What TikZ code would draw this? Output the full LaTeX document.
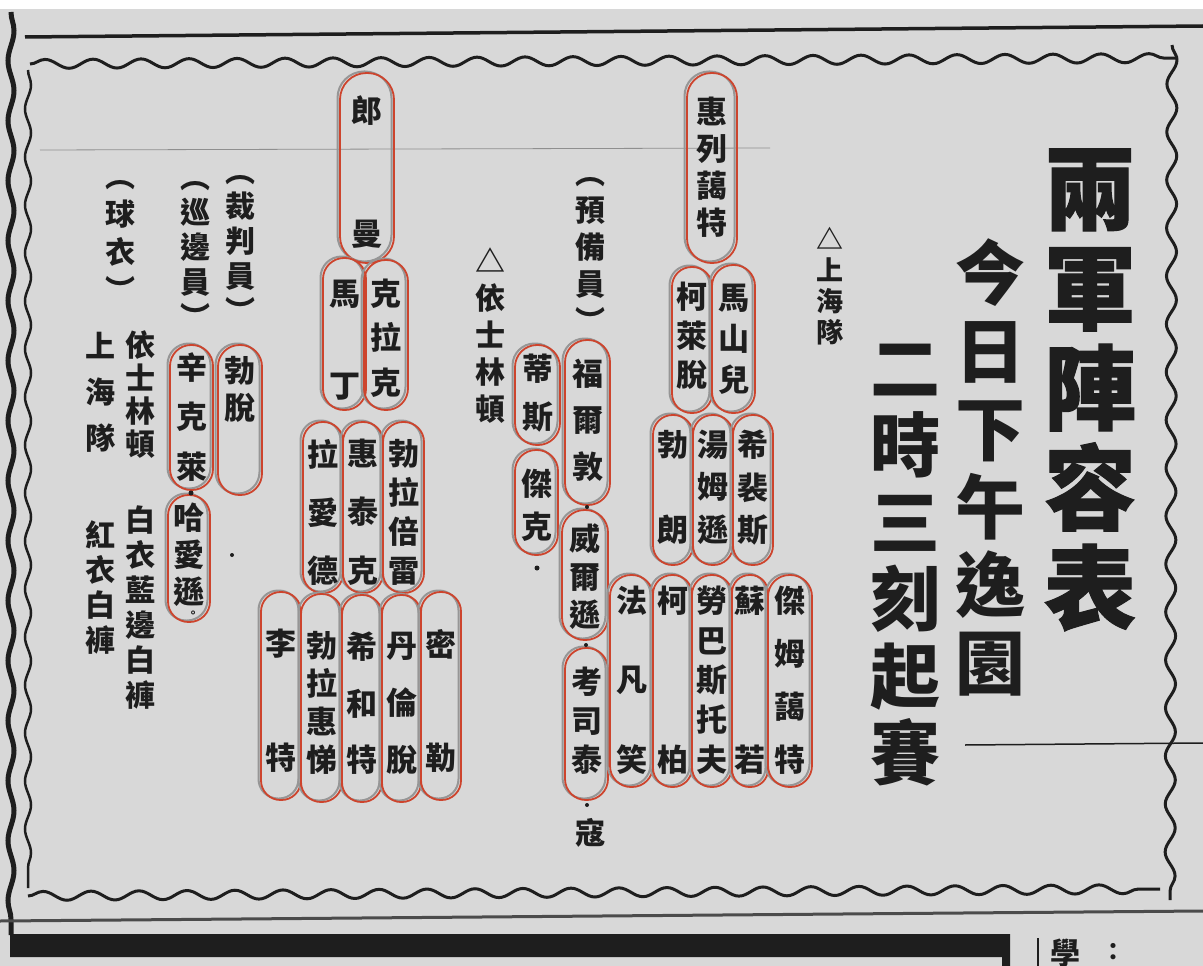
\documentclass[tikz,border=0pt]{standalone}
\usepackage{fontspec}
\newfontfamily\cjk{Noto Sans CJK TC}
\newcommand\cjkb{\cjk\bfseries}
\newfontfamily\cjkheavy{Noto Sans CJK TC}[FakeBold=1.2]
\usetikzlibrary{decorations.pathmorphing}
\definecolor{paper}{RGB}{216,216,216}
\definecolor{ink}{RGB}{30,30,30}
\definecolor{boxred}{RGB}{205,68,45}
\definecolor{shade}{RGB}{150,150,150}
\newcommand\vgap{\par\vfill}
\tikzset{
  pill/.style={draw=boxred, line width=1.8pt, inner sep=0pt},
  pillshade/.style={draw=shade, line width=2pt, inner sep=0pt},
  namefont/.style={font={\cjkb\fontsize{31}{37}\selectfont}, text=ink},
  lab/.style={font={\cjkb\fontsize{30}{35}\selectfont}, align=center, inner sep=0pt, text=ink},
  wavy/.style={draw=ink, decorate, decoration={snake, amplitude=#1, segment length=48pt}},
  dotmark/.style={fill=ink, circle, inner sep=0pt, minimum size=5pt}
}
% #1 name, #2 x1, #3 y1, #4 x2, #5 y2, #6 top pad, #7 bottom pad, #8 content
\newcommand\nbox[8]{%
  \node[pillshade, minimum width={(#4-#2)*1pt}, minimum height={(#5-#3)*1pt},
        rounded corners={(#4-#2)*0.5pt-0.5pt}] (#1-s) at ({(#2+#4)/2-2.5},{(#3+#5)/2-1.5}) {};
  \node[pill, minimum width={(#4-#2)*1pt}, minimum height={(#5-#3)*1pt},
        rounded corners={(#4-#2)*0.5pt-0.5pt}] (#1) at ({(#2+#4)/2},{(#3+#5)/2}) {};
  \node[namefont, anchor=north, inner sep=0pt] (#1-t) at ({(#2+#4)/2},{#3+#6})
     {\parbox[c][\dimexpr#5pt-#3pt-#6pt-#7pt\relax][s]{40pt}{\centering #8}};
}
\begin{document}
\begin{tikzpicture}[x=1pt,y=-1pt]
\useasboundingbox (0,0) rectangle (1203,966);
\clip (0,0) rectangle (1203,966);
\fill[paper] (0,0) rectangle (1203,966);
\fill[white] (0,0) rectangle (1203,9);

% frame lines
\draw[ink, line width=3.5pt] (25,37) -- (1203,26);
\draw[wavy=4.5pt, line width=3pt] (30,64) -- (1178,58);
\draw[wavy=4.5pt, line width=3pt] (28,896) -- (1160,889);
\draw[wavy=3pt, line width=2.5pt] (28,70) -- (28,888);
\draw[wavy=5pt, line width=3pt] (1172,45) -- (1170,900);
\draw[ink, line width=5pt, decorate, decoration={snake, amplitude=3pt, segment length=60pt}] (11,12) -- (11,935);
\draw[ink!80, line width=3pt] (0,921) -- (1203,911);
\fill[ink] (10,934) -- (1010,934) -- (1010,966) -- (1002,966) -- (1002,957) -- (10,957) -- cycle;
\draw[ink, line width=2pt] (1038,938) -- (1038,966);
\node[font={\cjkb\fontsize{30}{30}\selectfont}, text=ink, inner sep=0pt] (xue) at (1065,953) {學};
\node[font={\cjkb\fontsize{24}{24}\selectfont}, text=ink, inner sep=0pt] (colon) at (1113,952) {：};
\draw[ink!50, line width=0.8pt] (40,150) -- (770,148);
\draw[ink, line width=1.5pt] (965,745) -- (1203,743);

% left labels
\node[lab] (ref) at (240,249) {︵\\裁\\判\\員\\︶};
\node[lab] (line) at (195,255) {︵\\巡\\邊\\員\\︶};
\node[lab, font={\cjkb\fontsize{30}{38}\selectfont}] (kit) at (120,241) {︵\\球\\衣\\︶};
\node[lab, font={\cjkb\fontsize{30}{46}\selectfont}] (shteam) at (100,392) {上\\海\\隊};
\node[lab, font={\cjkb\fontsize{30}{33}\selectfont}] (isteam) at (140,395) {依\\士\\林\\頓};
\node[lab] (shkit) at (100,588) {紅\\衣\\白\\褲};
\node[lab] (iskit) at (140,608) {白\\衣\\藍\\邊\\白\\褲};

% left boxes
\nbox{botuo}{218}{345}{262}{495}{11}{10}{勃\par 脫\vgap}
\nbox{xinke}{170}{345}{213}{490}{7}{12}{辛\vgap 克\vgap 萊}
\nbox{haai}{168}{495}{210}{622}{8}{38}{哈\vgap 愛\vgap 遜}
\node[font={\cjkb\fontsize{12}{12}\selectfont}, text=ink, inner sep=0pt] (stop1) at (193,614) {。};
\node[dotmark] (d1) at (191,493) {};
\node[dotmark, minimum size=4pt] (d2) at (232,555) {};

% Isleton team
\nbox{langman}{340}{73}{394}{263}{22}{18}{郎\vgap 曼}
\nbox{mading}{323}{258}{366}{410}{22}{13}{馬\vgap 丁}
\nbox{kelake}{364}{260}{408}{410}{19}{16}{克\vgap 拉\vgap 克}
\nbox{laaide}{303}{422}{343}{593}{17}{11}{拉\vgap 愛\vgap 德}
\nbox{huitaike}{343}{422}{383}{593}{17}{11}{惠\vgap 泰\vgap 克}
\nbox{bolabei}{383}{422}{424}{593}{17}{11}{勃\vgap 拉\vgap 倍\vgap 雷}
\nbox{lite}{261}{592}{301}{800}{37}{31}{李\vgap 特}
\nbox{bolahui}{301}{594}{342}{802}{37}{31}{勃\vgap 拉\vgap 惠\vgap 悌}
\nbox{xihete}{342}{595}{382}{802}{37}{31}{希\vgap 和\vgap 特}
\nbox{danlun}{382}{595}{421}{802}{37}{31}{丹\vgap 倫\vgap 脫}
\nbox{mile}{421}{592}{461}{800}{37}{31}{密\vgap 勒}

% middle labels
\node[lab, font={\cjkb\fontsize{30}{37}\selectfont}] (islabel) at (490,336) {△\\依\\士\\林\\頓};
\node[lab, font={\cjkb\fontsize{30}{37}\selectfont}] (reserve) at (590,255) {︵\\預\\備\\員\\︶};

\nbox{disi}{515}{345}{560}{445}{9}{17}{蒂\vgap 斯}
\nbox{jieke}{515}{450}{558}{555}{19}{17}{傑\vgap 克}
\node[dotmark] (d3) at (537,568) {};
\nbox{fuerdun}{565}{340}{610}{505}{19}{27}{福\vgap 爾\vgap 敦}
\nbox{weiersun}{562}{510}{608}{640}{14}{14}{威\vgap 爾\vgap 遜}
\nbox{kaositai}{565}{648}{608}{800}{19}{29}{考\vgap 司\vgap 泰}
\node[dotmark, minimum size=4pt] (d4) at (587,507) {};
\node[dotmark, minimum size=4pt] (d5) at (586,645) {};
\node[dotmark, minimum size=4pt] (d6) at (587,805) {};
\node[font={\cjkb\fontsize{30}{30}\selectfont}, text=ink, inner sep=0pt] (kou) at (590,833) {寇};

% Shanghai team
\nbox{huilie}{687}{73}{737}{263}{24}{29}{惠\vgap 列\vgap 藹\vgap 特}
\nbox{kelai}{672}{267}{712}{413}{15}{27}{柯\vgap 萊\vgap 脫}
\nbox{mashan}{712}{265}{755}{413}{19}{22}{馬\vgap 山\vgap 兒}
\nbox{bolang}{653}{415}{693}{565}{15}{24}{勃\vgap 朗}
\nbox{tangmu}{693}{415}{733}{565}{15}{24}{湯\vgap 姆\vgap 遜}
\nbox{xizhuang}{733}{415}{773}{565}{15}{24}{希\vgap 裴\vgap 斯}
\nbox{fafan}{610}{575}{653}{787}{11}{16}{法\vgap 凡\vgap 笑}
\nbox{kebai}{653}{575}{692}{787}{11}{16}{柯\vgap 柏}
\nbox{laoba}{692}{575}{732}{787}{11}{16}{勞\vgap 巴\vgap 斯\vgap 托\vgap 夫}
\nbox{suruo}{732}{575}{768}{787}{11}{16}{蘇\vgap 若}
\nbox{jiemu}{768}{575}{812}{787}{11}{16}{傑\vgap 姆\vgap 藹\vgap 特}

\node[lab, font={\cjkb\fontsize{27}{31}\selectfont}] (shlabel) at (830,286) {△\\上\\海\\隊};

% title block
\node[font={\cjkheavy\bfseries\fontsize{92}{100}\selectfont}, align=center, inner sep=0pt, text=ink] (title) at (1090,390) {兩\\軍\\陣\\容\\表};
\node[font={\cjkb\fontsize{70}{78}\selectfont}, align=center, inner sep=0pt, text=ink] (sub1) at (990,467) {今\\日\\下\\午\\逸\\園};
\node[font={\cjkb\fontsize{70}{77}\selectfont}, align=center, inner sep=0pt, text=ink] (sub2) at (905,565) {二\\時\\三\\刻\\起\\賽};
\end{tikzpicture}
\end{document}
